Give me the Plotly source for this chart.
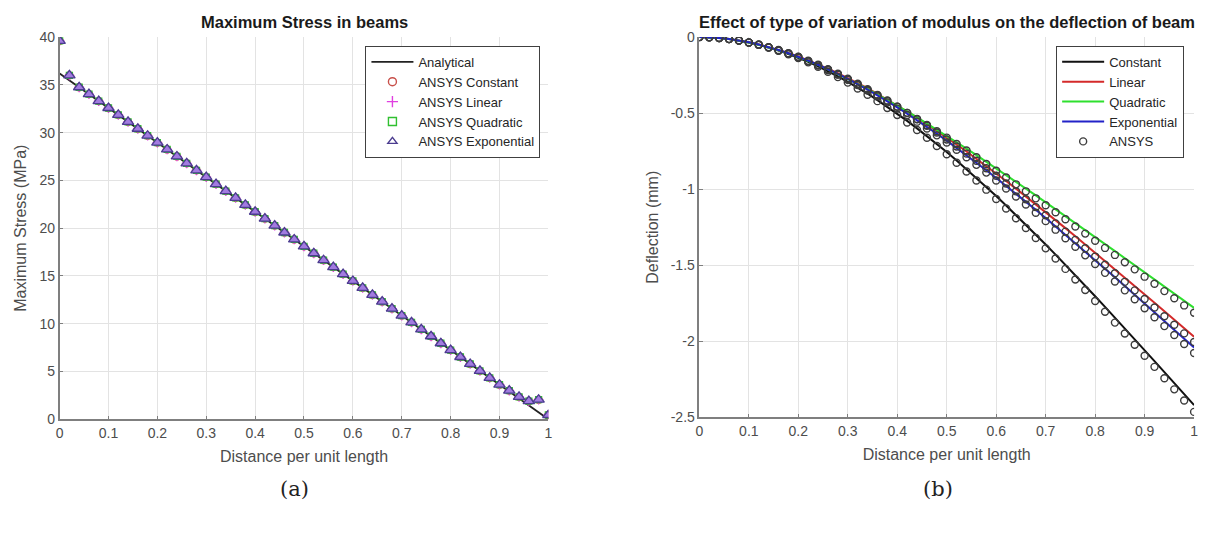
import plotly.graph_objects as go

# ---------------- data: panel (a) ----------------
stress_line_x = [0.0, 1.0]
stress_analytical = [36.2, 0.0]

stress_x = [0.00, 0.02, 0.04, 0.06, 0.08, 0.10, 0.12, 0.14, 0.16, 0.18,
            0.20, 0.22, 0.24, 0.26, 0.28, 0.30, 0.32, 0.34, 0.36, 0.38,
            0.40, 0.42, 0.44, 0.46, 0.48, 0.50, 0.52, 0.54, 0.56, 0.58,
            0.60, 0.62, 0.64, 0.66, 0.68, 0.70, 0.72, 0.74, 0.76, 0.78,
            0.80, 0.82, 0.84, 0.86, 0.88, 0.90, 0.92, 0.94, 0.96, 0.98, 1.00]
stress_ansys = [39.6, 36.0, 34.75, 34.03, 33.30, 32.58, 31.86, 31.13, 30.41, 29.68,
                28.96, 28.24, 27.51, 26.79, 26.06, 25.34, 24.62, 23.89, 23.17, 22.44,
                21.72, 21.00, 20.27, 19.55, 18.82, 18.10, 17.38, 16.65, 15.93, 15.20,
                14.48, 13.76, 13.03, 12.31, 11.58, 10.86, 10.14, 9.41, 8.69, 7.96,
                7.24, 6.52, 5.79, 5.07, 4.34, 3.62, 3.00, 2.35, 1.90, 2.05, 0.45]
stress_constant = stress_ansys
stress_linear = stress_ansys
stress_quadratic = stress_ansys
stress_exponential = stress_ansys

# ---------------- data: panel (b) ----------------
defl_x = stress_x
defl_constant = [0.000, -0.001, -0.006, -0.013, -0.023, -0.035, -0.050, -0.068, -0.088, -0.111,
                 -0.136, -0.163, -0.192, -0.224, -0.258, -0.294, -0.332, -0.372, -0.414, -0.458,
                 -0.503, -0.551, -0.600, -0.650, -0.703, -0.756, -0.811, -0.868, -0.926, -0.985,
                 -1.045, -1.107, -1.170, -1.233, -1.298, -1.364, -1.430, -1.497, -1.566, -1.634,
                 -1.704, -1.774, -1.844, -1.915, -1.987, -2.058, -2.130, -2.203, -2.275, -2.347, -2.420]
defl_linear = [0.000, -0.001, -0.006, -0.012, -0.022, -0.034, -0.048, -0.065, -0.083, -0.104,
               -0.127, -0.152, -0.178, -0.207, -0.237, -0.268, -0.302, -0.336, -0.373, -0.410,
               -0.449, -0.489, -0.530, -0.573, -0.616, -0.661, -0.706, -0.752, -0.799, -0.847,
               -0.896, -0.946, -0.996, -1.047, -1.098, -1.150, -1.203, -1.256, -1.309, -1.363,
               -1.417, -1.471, -1.526, -1.581, -1.636, -1.692, -1.747, -1.803, -1.858, -1.914, -1.970]
defl_quadratic = [0.000, -0.001, -0.006, -0.013, -0.022, -0.035, -0.050, -0.067, -0.086, -0.107,
                  -0.131, -0.156, -0.183, -0.212, -0.242, -0.274, -0.307, -0.341, -0.377, -0.413,
                  -0.450, -0.489, -0.528, -0.568, -0.608, -0.649, -0.691, -0.733, -0.776, -0.819,
                  -0.863, -0.907, -0.951, -0.996, -1.041, -1.086, -1.132, -1.177, -1.223, -1.269,
                  -1.315, -1.361, -1.407, -1.454, -1.500, -1.547, -1.593, -1.640, -1.687, -1.733, -1.780]
defl_exponential = [0.000, -0.001, -0.006, -0.013, -0.022, -0.034, -0.049, -0.066, -0.085, -0.106,
                    -0.129, -0.155, -0.182, -0.211, -0.242, -0.275, -0.309, -0.345, -0.383, -0.421,
                    -0.462, -0.503, -0.546, -0.590, -0.635, -0.681, -0.728, -0.776, -0.825, -0.875,
                    -0.926, -0.977, -1.029, -1.082, -1.135, -1.189, -1.244, -1.299, -1.354, -1.410,
                    -1.466, -1.523, -1.579, -1.636, -1.694, -1.751, -1.809, -1.866, -1.924, -1.982, -2.040]
ansys_constant = [0.000, -0.001, -0.006, -0.013, -0.023, -0.036, -0.051, -0.069, -0.090, -0.113,
                  -0.138, -0.166, -0.195, -0.228, -0.263, -0.299, -0.338, -0.379, -0.421, -0.466,
                  -0.512, -0.561, -0.611, -0.662, -0.716, -0.770, -0.826, -0.884, -0.943, -1.003,
                  -1.064, -1.127, -1.191, -1.255, -1.321, -1.389, -1.456, -1.524, -1.594, -1.663,
                  -1.735, -1.806, -1.877, -1.949, -2.023, -2.095, -2.168, -2.243, -2.316, -2.389, -2.464]
ansys_linear = [0.000, -0.001, -0.006, -0.012, -0.022, -0.035, -0.049, -0.066, -0.084, -0.106,
                -0.129, -0.155, -0.181, -0.211, -0.241, -0.273, -0.307, -0.342, -0.380, -0.417,
                -0.457, -0.498, -0.540, -0.583, -0.627, -0.673, -0.719, -0.766, -0.813, -0.862,
                -0.912, -0.963, -1.014, -1.066, -1.118, -1.171, -1.225, -1.279, -1.333, -1.388,
                -1.443, -1.497, -1.553, -1.609, -1.665, -1.722, -1.778, -1.835, -1.891, -1.948, -2.005]
ansys_quadratic = [0.000, -0.001, -0.006, -0.013, -0.022, -0.036, -0.051, -0.068, -0.088, -0.109,
                   -0.133, -0.159, -0.186, -0.216, -0.246, -0.279, -0.313, -0.347, -0.384, -0.420,
                   -0.458, -0.498, -0.538, -0.578, -0.619, -0.661, -0.703, -0.746, -0.790, -0.834,
                   -0.879, -0.923, -0.968, -1.014, -1.060, -1.106, -1.152, -1.198, -1.245, -1.292,
                   -1.339, -1.386, -1.432, -1.480, -1.527, -1.575, -1.622, -1.670, -1.717, -1.764, -1.812]
ansys_exponential = [0.000, -0.001, -0.006, -0.013, -0.022, -0.035, -0.050, -0.067, -0.087, -0.108,
                     -0.131, -0.158, -0.185, -0.215, -0.246, -0.280, -0.315, -0.351, -0.390, -0.429,
                     -0.470, -0.512, -0.556, -0.601, -0.646, -0.693, -0.741, -0.790, -0.840, -0.891,
                     -0.943, -0.995, -1.048, -1.101, -1.155, -1.210, -1.266, -1.322, -1.378, -1.435,
                     -1.492, -1.550, -1.607, -1.665, -1.724, -1.783, -1.842, -1.900, -1.959, -2.018, -2.077]

# ---------------- ticks ----------------
x_ticks = [0, 0.1, 0.2, 0.3, 0.4, 0.5, 0.6, 0.7, 0.8, 0.9, 1]
x_tick_labels = ["0", "0.1", "0.2", "0.3", "0.4", "0.5", "0.6", "0.7", "0.8", "0.9", "1"]
stress_ticks = [0, 5, 10, 15, 20, 25, 30, 35, 40]
stress_tick_labels = ["0", "5", "10", "15", "20", "25", "30", "35", "40"]
defl_ticks = [0, -0.5, -1, -1.5, -2, -2.5]
defl_tick_labels = ["0", "-0.5", "-1", "-1.5", "-2", "-2.5"]

FONT = "Liberation Sans, Arial, sans-serif"
TICK_C = "#4d4d4d"
W, H = 1210, 534

fig = go.Figure()

# ---- panel (a) ----
fig.add_trace(go.Scatter(x=stress_line_x, y=stress_analytical, mode="lines",
                         line=dict(color="#222222", width=1.8), name="Analytical",
                         xaxis="x", yaxis="y", legend="legend"))
mk_a = [
    ("ANSYS Constant", stress_constant, "circle-open", "#c8504a", None, 7),
    ("ANSYS Linear", stress_linear, "cross-thin-open", "#e040e0", None, 7),
    ("ANSYS Quadratic", stress_quadratic, "square-open", "#30c030", None, 6),
    ("ANSYS Exponential", stress_exponential, "triangle-up", "#4b3c8f", "#a27be0", 10),
]
for name, vals, sym, col, fill, sz in mk_a:
    if fill is None:
        marker = dict(symbol=sym, size=sz, color=col, line=dict(color=col, width=1.3))
    else:
        marker = dict(symbol=sym, size=sz, color=fill, line=dict(color=col, width=1.3))
    fig.add_trace(go.Scatter(x=stress_x, y=vals, mode="markers", marker=marker,
                             showlegend=False, xaxis="x", yaxis="y"))
for name, vals, sym, col, fill, sz in mk_a:
    s = sym if sym.endswith("open") else sym + "-open"
    fig.add_trace(go.Scatter(x=[None], y=[None], mode="markers", name=name,
                             marker=dict(symbol=s, size=8, color=col, line=dict(color=col, width=1.4)),
                             xaxis="x", yaxis="y", legend="legend"))

# ---- panel (b) ----
lines_b = [
    ("Constant", defl_constant, "#111111"),
    ("Linear", defl_linear, "#d42a2a"),
    ("Quadratic", defl_quadratic, "#2ee02e"),
    ("Exponential", defl_exponential, "#2222c8"),
]
for name, vals, col in lines_b:
    fig.add_trace(go.Scatter(x=defl_x, y=vals, mode="lines", name=name,
                             line=dict(color=col, width=2),
                             xaxis="x2", yaxis="y2", legend="legend2"))
for i, vals in enumerate([ansys_constant, ansys_linear, ansys_quadratic, ansys_exponential]):
    fig.add_trace(go.Scatter(x=defl_x, y=vals, mode="markers", name="ANSYS",
                             legendgroup="ansys", showlegend=(i == 0),
                             marker=dict(symbol="circle-open", size=7, color="#3c3c3c",
                                         line=dict(color="#3c3c3c", width=1.4)),
                             xaxis="x2", yaxis="y2", legend="legend2"))

# ---- geometry (pixels -> paper) ----
def px(xp):
    return xp / W
def py(yp):
    return 1 - yp / H

ax_common = dict(showgrid=True, gridcolor="#e3e3e3", gridwidth=1, zeroline=False,
                 showline=True, linecolor="#7f7f7f", linewidth=1.5, ticks="inside",
                 ticklen=4, tickcolor="#7f7f7f", tickfont=dict(family=FONT, size=14, color=TICK_C),
                 mirror=False)
XT = dict(size=16, color=TICK_C)

LEG = dict(xanchor="right", yanchor="top", bgcolor="white", bordercolor="#404040", borderwidth=1,
           font=dict(family=FONT, size=13, color="#262626"), tracegroupgap=0, itemwidth=42)

fig.update_layout(
    width=W, height=H, margin=dict(l=0, r=0, t=0, b=0),
    paper_bgcolor="white", plot_bgcolor="white",
    font=dict(family=FONT, color=TICK_C),
    xaxis=dict(domain=[px(56), px(548)], range=[0, 1], tickvals=x_ticks, ticktext=x_tick_labels,
               anchor="y", title=dict(text="Distance per unit length", standoff=11, font=XT), **ax_common),
    yaxis=dict(domain=[py(424), py(30)], range=[0, 40], tickvals=stress_ticks,
               ticktext=stress_tick_labels, anchor="x",
               title=dict(text="Maximum Stress (MPa)", standoff=9, font=XT), **ax_common),
    xaxis2=dict(domain=[px(700), px(1198)], range=[0, 1], tickvals=x_ticks, ticktext=x_tick_labels,
                anchor="y2", title=dict(text="Distance per unit length", standoff=11, font=XT), **ax_common),
    yaxis2=dict(domain=[py(422), py(30)], range=[-2.5, 0], tickvals=defl_ticks,
                ticktext=defl_tick_labels, anchor="x2",
                title=dict(text="Deflection (mm)", standoff=8, font=XT), **ax_common),
    legend=dict(x=px(540), y=py(39), **LEG),
    legend2=dict(x=px(1188), y=py(39), **LEG),
    annotations=[
        dict(text="<b>Maximum Stress in beams</b>", x=px(302), y=py(14), xref="paper", yref="paper",
             showarrow=False, font=dict(family=FONT, size=16.5, color="#1a1a1a"), xanchor="center", yanchor="middle"),
        dict(text="<b>Effect of type of variation of modulus on the deflection of beam</b>", x=px(949), y=py(14),
             xref="paper", yref="paper", showarrow=False,
             font=dict(family=FONT, size=16.5, color="#1a1a1a"), xanchor="center", yanchor="middle"),
        dict(text="(a)", x=px(292), y=py(496), xref="paper", yref="paper", showarrow=False,
             font=dict(family="DejaVu Serif, Liberation Serif, serif", size=21, color="#222222"),
             xanchor="center", yanchor="middle"),
        dict(text="(b)", x=px(940), y=py(496), xref="paper", yref="paper", showarrow=False,
             font=dict(family="DejaVu Serif, Liberation Serif, serif", size=21, color="#222222"),
             xanchor="center", yanchor="middle"),
    ],
)

fig.write_html("out.html", config={"displayModeBar": False},
               post_script="document.body.style.margin='0';document.body.style.padding='0';")
